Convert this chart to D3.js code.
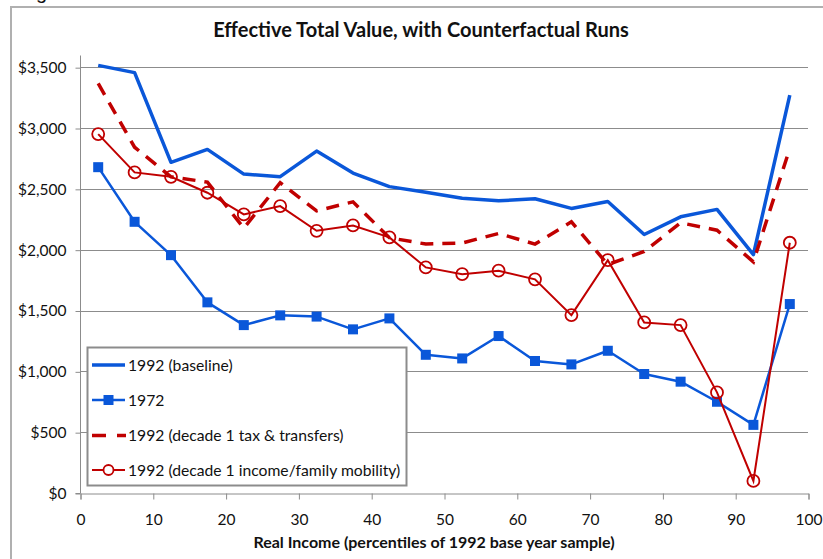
<!DOCTYPE html>
<html><head><meta charset="utf-8">
<script src="https://cdn.jsdelivr.net/npm/d3@7"></script>
<style>body{margin:0;background:#fff}svg{display:block}</style>
</head><body>
<svg id="c" width="823" height="559"></svg>
<script>
const percentiles = [2.5,7.5,12.5,17.5,22.5,27.5,32.5,37.5,42.5,47.5,52.5,57.5,62.5,67.5,72.5,77.5,82.5,87.5,92.5,97.5];
const baseline1992 = [3515,3455,2718,2824,2621,2600,2810,2630,2518,2472,2422,2402,2418,2339,2396,2125,2270,2331,1960,3270];
const y1972 = [2678,2229,1955,1567,1380,1460,1450,1345,1435,1136,1106,1290,1085,1057,1169,978,915,750,560,1553];
const taxTransfers = [3366,2842,2599,2555,2177,2550,2319,2393,2098,2046,2055,2133,2046,2229,1878,1985,2221,2160,1900,2832];
const mobility = [2950,2635,2599,2468,2290,2358,2155,2199,2101,1854,1799,1827,1756,1462,1914,1402,1380,827,99,2057];
const xTicks = [0,10,20,30,40,50,60,70,80,90,100];
const yTicks = [0,500,1000,1500,2000,2500,3000,3500];
const legendLabels = ["1992 (baseline)","1972","1992 (decade 1 tax & transfers)","1992 (decade 1 income/family mobility)"];

const BLUE = "#0a57d9", RED = "#c00000", GRID = "#8c8c8c";
const font = "Lato, 'Open Sans', sans-serif";
const svg = d3.select("#c");

// outer chart border
svg.append("rect").attr("x",11).attr("y",7).attr("width",830).attr("height",570)
  .attr("fill","#fff").attr("stroke","#b0b0b0").attr("stroke-width",2);
svg.append("text").attr("x",36).attr("y",-1).attr("font-family","'Liberation Sans',sans-serif")
  .attr("font-size",20).attr("fill","#111").text("g");

const x = d3.scaleLinear().domain([0,100]).range([80,808]);
const y = d3.scaleLinear().domain([0,3600]).range([493,55]);

// title
svg.append("text").attr("x",421).attr("y",37).attr("text-anchor","middle")
  .attr("font-family",font).attr("font-weight","bold").attr("font-size",20)
  .attr("fill","#111").text("Effective Total Value, with Counterfactual Runs");

// gridlines
svg.append("g").selectAll("line").data(yTicks.filter(d=>d>0)).join("line")
  .attr("x1",x(0)).attr("x2",x(100)).attr("y1",d=>Math.round(y(d))+0.5).attr("y2",d=>Math.round(y(d))+0.5)
  .attr("stroke",GRID).attr("stroke-width",1);

// axes
const yAxis = d3.axisLeft(y).tickValues(yTicks).tickSize(5).tickPadding(9)
  .tickFormat(d=>"$"+d3.format(",")(d));
const gy = svg.append("g").attr("transform",`translate(${x(0)+0.5},0.5)`).call(yAxis);
const xAxis = d3.axisBottom(x).tickValues(xTicks).tickSize(6).tickPadding(14);
const gx = svg.append("g").attr("transform",`translate(0.5,${Math.round(y(0))+0.5})`).call(xAxis);
[gx,gy].forEach(g=>{
  g.select(".domain").attr("stroke",GRID);
  g.selectAll(".tick line").attr("stroke",GRID);
  g.selectAll("text").attr("font-family",font).attr("font-size",15.5).attr("fill","#111");
});
gy.select(".domain").attr("d",`M-5,${y(0)}H0V${y(3600)}`);

svg.append("text").attr("x",434).attr("y",548).attr("text-anchor","middle")
  .attr("font-family",font).attr("font-weight","bold").attr("font-size",16)
  .attr("fill","#111").text("Real Income (percentiles of 1992 base year sample)");

const line = d3.line().x((d,i)=>x(percentiles[i])).y(d=>y(d));

const plot = svg.append("g");
plot.append("path").datum(baseline1992).attr("d",line).attr("fill","none")
  .attr("stroke",BLUE).attr("stroke-width",3.5).attr("stroke-linejoin","round");
plot.append("path").datum(y1972).attr("d",line).attr("fill","none")
  .attr("stroke",BLUE).attr("stroke-width",2.5).attr("stroke-linejoin","round");
plot.append("g").selectAll("rect").data(y1972).join("rect")
  .attr("x",(d,i)=>x(percentiles[i])-5).attr("y",d=>y(d)-5).attr("width",10).attr("height",10)
  .attr("fill",BLUE);
plot.append("path").datum(taxTransfers).attr("d",line).attr("fill","none")
  .attr("stroke",RED).attr("stroke-width",3.5).attr("stroke-dasharray","13,9");
plot.append("path").datum(mobility).attr("d",line).attr("fill","none")
  .attr("stroke",RED).attr("stroke-width",2);
plot.append("g").selectAll("circle").data(mobility).join("circle")
  .attr("cx",(d,i)=>x(percentiles[i])).attr("cy",d=>y(d)).attr("r",6)
  .attr("fill","none").attr("stroke",RED).attr("stroke-width",1.8);

// legend
const lg = svg.append("g");
lg.append("rect").attr("x",87.5).attr("y",347.5).attr("width",319).attr("height",138)
  .attr("fill","#fff").attr("stroke","#8c8c8c").attr("stroke-width",2);
const rowsY = [365,400,435.5,470];
legendLabels.forEach((lab,i)=>{
  const yy = rowsY[i];
  const l = lg.append("line").attr("x1",92).attr("x2",125).attr("y1",yy).attr("y2",yy);
  if(i===0) l.attr("stroke",BLUE).attr("stroke-width",3.5);
  if(i===1){ l.attr("stroke",BLUE).attr("stroke-width",2.5);
    lg.append("rect").attr("x",103.5).attr("y",yy-5).attr("width",10).attr("height",10).attr("fill",BLUE); }
  if(i===2){ l.attr("stroke",RED).attr("stroke-width",3.5).attr("stroke-dasharray","14,11").attr("x1",92).attr("x2",126); }
  if(i===3){ l.attr("stroke",RED).attr("stroke-width",2);
    lg.append("circle").attr("cx",108.5).attr("cy",yy).attr("r",5).attr("fill","#fff").attr("stroke",RED).attr("stroke-width",1.8); }
  lg.append("text").attr("x",128).attr("y",yy+5.5).attr("font-family",font).attr("font-size",15.7)
    .attr("fill","#111").text(lab);
});
</script>
</body></html>
